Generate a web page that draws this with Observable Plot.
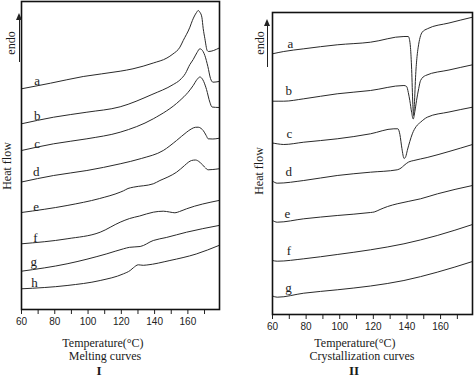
<!DOCTYPE html>
<html><head><meta charset="utf-8">
<script src="https://cdn.jsdelivr.net/npm/d3@7"></script>
<script src="https://cdn.jsdelivr.net/npm/@observablehq/plot@0.6"></script>
<style>
body{margin:0;background:#fff;}
#wrap{position:relative;width:474px;height:377px;overflow:hidden;font-family:"Liberation Serif","Times New Roman",serif;color:#1a1a1a;background:#fff;}
.p{position:absolute;top:0;}
.t{position:absolute;transform:translate(-50%,-50%);white-space:nowrap;font-size:12px;line-height:1;}
.r{transform:translate(-50%,-50%) rotate(-90deg);}
.big{font-size:13px;font-weight:bold;}
.arrow{position:absolute;width:0;border-left:1px solid #222;}
.arrow::before{content:"";position:absolute;left:-3.5px;top:-7px;border-left:3px solid transparent;border-right:3px solid transparent;border-bottom:7px solid #222;}
</style></head><body>
<div id="wrap">
  <div class="p" id="p1" style="left:0"></div>
  <div class="p" id="p2" style="left:237px"></div>
  <div class="t r" style="left:11px;top:43px">endo</div>
  <div class="arrow" style="left:18.5px;top:20px;height:42px"></div>
  <div class="t r" style="left:7px;top:166px">Heat flow</div>
  <div class="t" style="left:103px;top:342.5px">Temperature(°C)</div>
  <div class="t" style="left:105px;top:355.5px">Melting curves</div>
  <div class="t big" style="left:99px;top:370px">I</div>
  <div class="t r" style="left:260px;top:43px">endo</div>
  <div class="arrow" style="left:266.5px;top:26px;height:41px"></div>
  <div class="t r" style="left:259px;top:171px">Heat flow</div>
  <div class="t" style="left:355px;top:342.5px">Temperature(°C)</div>
  <div class="t" style="left:362px;top:355.5px">Crystallization curves</div>
  <div class="t big" style="left:354px;top:370px">II</div>
</div>
<script>
// Temperature ticks (°C)
const majorTicks = [60, 80, 100, 120, 140, 160];
const minorTicks = [70, 90, 110, 130, 150, 170];

// Panel I: melting curves, [temperature °C, heat flow (a.u.)]
const meltA = [[60,220.7],[77.4,226.3],[97.1,233],[119.3,238.3],[127,240.7],[139.2,246.5],[147.4,251.5],[151,255.5],[155.2,262.3],[157.2,269],[161.2,282.3],[162.7,289],[165.2,297],[166.2,299],[167.2,297.3],[168.4,292.3],[169.2,281],[170.2,271],[171.6,259],[172.4,258],[178.6,261.3]];
const meltB = [[60,185.7],[79.3,192.3],[99.3,197.3],[119.3,202.7],[138.4,215],[151.2,225],[155.2,229.5],[158.5,236],[161.2,245],[163.2,250],[165.5,257],[167.2,260.7],[168.2,260],[170.2,254],[172,243],[173.6,231],[175.1,227.3],[178.6,228]];
const meltC = [[60,159],[79.3,165.7],[99.3,170.7],[119.3,177.3],[139.2,190.7],[155.2,209],[160,217],[163.2,224],[165.5,230],[167.2,232.5],[168.5,231],[169.5,228],[171.2,220],[173.2,207.3],[174.5,202.5],[178.6,202]];
const meltD = [[60,127.5],[79.3,134],[99.3,139],[119.3,145.7],[132,151],[145.2,159],[153.2,169],[159,177],[162,180.5],[164.5,182.2],[166.2,182.3],[168,181],[169.2,179],[171,174],[172.2,170.7],[175,170.5],[178.6,171.2]];
const meltE = [[60,97],[87.4,104],[107,111],[119.3,117.3],[121.3,118.7],[124,121],[127.2,122.3],[139.2,125.7],[143.2,129],[148,132.5],[153.2,137.3],[158,144],[160.5,147.5],[162.2,149],[164.5,149.5],[167.2,147.3],[170,142.5],[172.2,139.7],[175,140],[178.6,140.7]];
const meltF = [[60,65.7],[87.4,70.7],[107.3,77.3],[119.3,87.3],[125,91],[131,93.5],[139.2,97.3],[145.2,98.3],[149,97.5],[152.2,96.7],[155,98],[159.2,100.7],[178.6,109]];
const meltG = [[60,38.3],[87.4,45.7],[111.3,55.7],[121.3,60.7],[125,62.2],[131.3,63],[139.2,69],[147,72],[159.2,77.3],[178.6,84]];
const meltH = [[60,20.7],[87.4,24],[107.3,29],[121.3,35.7],[125.3,39],[127.2,41.7],[130.2,44.7],[133.2,44.2],[135.3,44.5],[149.2,49],[165,55.5],[178.6,64]];
const meltNames = ["a","b","c","d","e","f","g","h"];
const meltLabelT = [69.4,69.4,69.4,68.8,68.8,68.4,67.4,67.8];
const meltLabelV = [229,194,165.7,137.3,102.5,71.5,48,27];

// Panel II: crystallization curves, [temperature °C, heat flow (a.u.)]
const crystA = [[60,260.7],[66.7,263],[78.6,265.7],[98.5,269.7],[118.3,272.3],[138.2,278],[140.8,278],[141.5,275],[142.1,267],[142.8,245],[143.5,210],[143.9,199],[144.4,210],[145.2,240],[146,258],[146.7,267.3],[147.8,277],[149.1,282.3],[152.1,285.7],[165,291.5],[179,297.3]];
const crystB = [[60,213.3],[66.7,213.3],[78.6,215.7],[98.5,220.7],[118.3,224],[138.2,229],[139.8,228],[140.8,222],[141.7,214],[142.8,202],[143.7,195.5],[144.7,203],[145.7,214],[147,226],[148.1,234],[151.1,239],[165,244.5],[179,249.7]];
const crystC = [[60,171.5],[62.8,170.7],[66.7,170],[78.6,172.3],[98.5,175.7],[118.3,180.7],[132.2,185.7],[134.6,185.7],[135.8,180],[137,166],[138.3,156],[139.3,158],[140.2,164],[141.7,173],[143.2,180.7],[145.5,188],[148.1,192.3],[152.1,197.3],[165,202.5],[179,207.3]];
const crystD = [[60,133.5],[62.8,131.3],[78.6,134],[98.5,139],[118.3,142.3],[134.2,144.7],[136.5,146.5],[138.2,149],[141,152.5],[144.1,154],[152,157],[165,163],[179,170]];
const crystE = [[60,94],[62.8,92.3],[78.6,95.7],[98.5,99],[118.3,102],[120.5,102.5],[124,105],[128.5,108],[134.2,110.7],[148.1,115.7],[158.2,120.7],[179,129]];
const crystF = [[60,54],[62.8,53.3],[78.6,55.7],[98.5,60],[118.3,64.7],[138.2,70.7],[158,79],[179,90]];
const crystG = [[60,18.5],[62.8,17.3],[78.6,21.3],[98.5,24.7],[118.3,28.5],[138.2,34],[158,42.3],[179,53]];
const crystNames = ["a","b","c","d","e","f","g"];
const crystLabelT = [70.7,69.7,70.1,69.7,68.9,69.7,69.5];
const crystLabelV = [270.7,224,181,143,101,63.5,27];

function rowsOf(series, names) {
  return series.flatMap((s, i) => s.map(([T, v]) => ({curve: names[i], T, v})));
}
function labelsOf(names, T, V) {
  return names.map((name, i) => ({name, T: T[i], v: V[i]}));
}

function panel(rows, labels, o) {
  return Plot.plot({
    width: 237, height: o.height,
    marginLeft: o.ml, marginRight: o.mr, marginTop: o.mt, marginBottom: o.mb,
    x: {domain: [60, 179]},
    y: {domain: o.ydom, axis: null},
    style: {fontFamily: "'Liberation Sans', Arial, sans-serif", fontSize: "10px", color: "#222", background: "transparent", overflow: "visible"},
    marks: [
      Plot.line(rows, {x: "T", y: "v", z: "curve", curve: "monotone-x", stroke: "#2a2a2a", strokeWidth: 1}),
      Plot.text(labels, {x: "T", y: "v", text: "name", fontFamily: "'Liberation Serif', serif", fontSize: 13, fill: "#1a1a1a"}),
      Plot.axisX(majorTicks, {tickSize: 5, tickPadding: 3, label: null, stroke: "#222"}),
      Plot.axisX(minorTicks, {tickSize: 5, tickFormat: () => "", label: null, stroke: "#222"}),
      Plot.frame({stroke: "#111", strokeWidth: 1.6})
    ]
  });
}

document.getElementById("p1").append(panel(
  rowsOf([meltA, meltB, meltC, meltD, meltE, meltF, meltG, meltH], meltNames),
  labelsOf(meltNames, meltLabelT, meltLabelV),
  {height: 335, ml: 21, mr: 18, mt: 1, mb: 26, ydom: [0, 308]}
));
document.getElementById("p2").append(panel(
  rowsOf([crystA, crystB, crystC, crystD, crystE, crystF, crystG], crystNames),
  labelsOf(crystNames, crystLabelT, crystLabelV),
  {height: 340, ml: 35, mr: 2, mt: 12, mb: 26, ydom: [0, 302]}
));
</script>
</body></html>
